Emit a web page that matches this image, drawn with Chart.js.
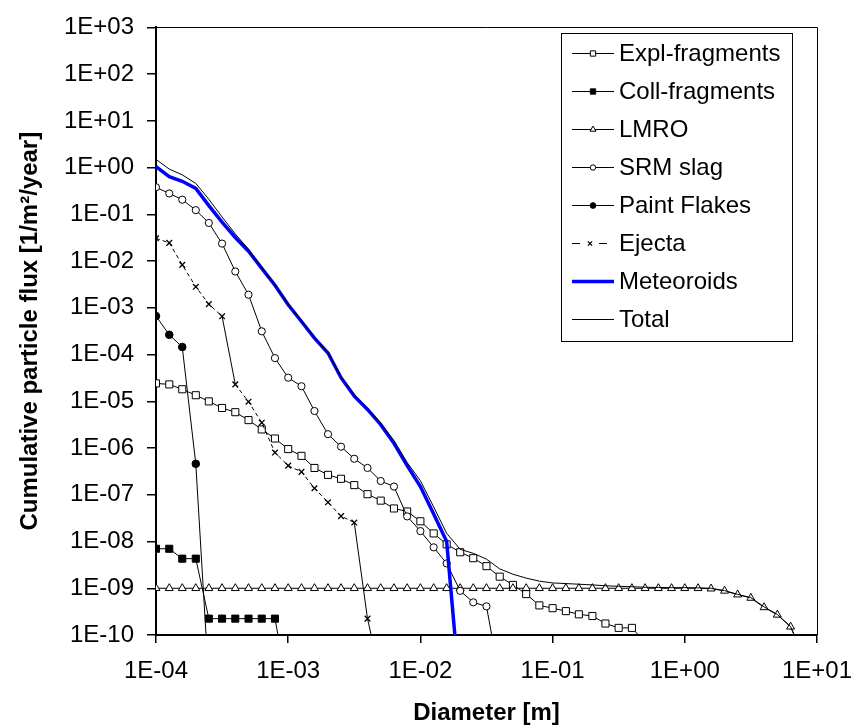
<!DOCTYPE html>
<html><head><meta charset="utf-8">
<script src="https://cdn.jsdelivr.net/npm/chart.js@4.4.0/dist/chart.umd.min.js"></script>
<style>html,body{margin:0;padding:0;background:#fff}#wrap{width:867px;height:728px;position:relative}</style>
</head><body><div id="wrap"><canvas id="c" width="867" height="728"></canvas></div>
<script>
// ---- data ----
const diameters = [1.00e-4,1.26e-4,1.58e-4,2.00e-4,2.51e-4,3.16e-4,3.98e-4,5.01e-4,6.31e-4,7.94e-4,
  1.00e-3,1.26e-3,1.58e-3,2.00e-3,2.51e-3,3.16e-3,3.98e-3,5.01e-3,6.31e-3,7.94e-3,
  1.00e-2,1.26e-2,1.58e-2,2.00e-2,2.51e-2,3.16e-2,3.98e-2,5.01e-2,6.31e-2,7.94e-2,
  1.00e-1,1.26e-1,1.58e-1,2.00e-1,2.51e-1,3.16e-1,3.98e-1,5.01e-1,6.31e-1,7.94e-1,
  1.00,1.26,1.58,2.00,2.51,3.16,3.98,5.01,6.31,7.94,10.0];
const xTicks = [1e-4,1e-3,1e-2,1e-1,1,10];
const xTickLabels = ['1E-04','1E-03','1E-02','1E-01','1E+00','1E+01'];
const yTicks = [1e-10,1e-9,1e-8,1e-7,1e-6,1e-5,1e-4,1e-3,1e-2,1e-1,1,10,100,1000];
const yTickLabels = ['1E-10','1E-09','1E-08','1E-07','1E-06','1E-05','1E-04','1E-03','1E-02','1E-01','1E+00','1E+01','1E+02','1E+03'];
const seriesNames = ['Expl-fragments','Coll-fragments','LMRO','SRM slag','Paint Flakes','Ejecta','Meteoroids','Total'];

const explFragments = [2.42e-5,2.30e-5,1.81e-5,1.35e-5,9.96e-6,7.2e-6,5.85e-6,3.96e-6,2.5e-6,1.60e-6,
  9.5e-7,6.8e-7,3.75e-7,2.67e-7,2.2e-7,1.61e-7,1.03e-7,7.5e-8,5.1e-8,4.4e-8,
  2.71e-8,1.49e-8,8.7e-9,5.9e-9,4.4e-9,2.97e-9,1.77e-9,1.18e-9,7.5e-10,4.3e-10,
  3.75e-10,3.24e-10,2.77e-10,2.55e-10,1.76e-10,1.42e-10,1.42e-10,7e-11];
const collFragments = [7.0e-9,7.0e-9,4.3e-9,4.3e-9,2.24e-10,2.24e-10,2.24e-10,2.24e-10,2.24e-10,2.24e-10,6.6e-12];
const lmro = [1.0e-9,1.0e-9,1.0e-9,1.0e-9,1.0e-9,1.0e-9,1.0e-9,1.0e-9,1.0e-9,1.0e-9,
  1.0e-9,1.0e-9,1.0e-9,1.0e-9,1.0e-9,1.0e-9,1.0e-9,1.0e-9,1.0e-9,1.0e-9,
  1.0e-9,1.0e-9,1.0e-9,1.0e-9,1.0e-9,1.0e-9,1.0e-9,1.0e-9,1.0e-9,1.0e-9,
  1.0e-9,1.0e-9,1.0e-9,1.0e-9,1.0e-9,1.0e-9,1.0e-9,1.0e-9,1.0e-9,1.0e-9,
  1.0e-9,1.0e-9,0.98e-9,8.8e-10,7.3e-10,6.2e-10,3.9e-10,2.7e-10,1.5e-10,3.3e-11];
const srmSlag = [0.38,0.28,0.206,0.123,0.0655,0.0237,6.0e-3,1.91e-3,3.14e-4,8.4e-5,
  3.2e-5,2.1e-5,6.2e-6,1.98e-6,1.07e-6,5.9e-7,3.75e-7,1.97e-7,1.50e-7,3.45e-8,
  1.67e-8,7.5e-9,3.4e-9,8.8e-10,5.0e-10,4.1e-10,1.2e-11];
const paintFlakes = [6.65e-4,2.65e-4,1.45e-4,4.6e-7,1.0e-11];
const ejecta = [0.0308,0.0245,8.3e-3,2.82e-3,1.20e-3,6.6e-4,2.3e-5,9.8e-6,3.48e-6,8.0e-7,
  4.2e-7,3.09e-7,1.38e-7,6.9e-8,3.5e-8,2.55e-8,2.24e-10,1.2e-11];
const meteoroids = [1.05,0.64,0.51,0.36,0.154,0.068,0.032,0.0163,7.0e-3,3.05e-3,
  1.16e-3,5.1e-4,2.24e-4,1.08e-4,3.2e-5,1.29e-5,6.7e-6,3.16e-6,1.26e-6,4.2e-7,
  1.5e-7,3.9e-8,1.0e-8,5e-12];
const total = [1.5,0.93,0.70,0.46,0.21,0.088,0.038,0.018,7.3e-3,3.1e-3,
  1.2e-3,5.3e-4,2.3e-4,1.1e-4,3.3e-5,1.37e-5,7.1e-6,3.4e-6,1.45e-6,4.9e-7,
  2.0e-7,5.5e-8,1.5e-8,6.8e-9,5.6e-9,4.2e-9,2.6e-9,2.0e-9,1.65e-9,1.42e-9,
  1.30e-9,1.26e-9,1.22e-9,1.18e-9,1.13e-9,1.10e-9,1.08e-9,1.05e-9,1.04e-9,1.03e-9,
  1.03e-9,1.02e-9,1.0e-9,8.9e-10,7.4e-10,6.3e-10,4.0e-10,2.75e-10,1.52e-10,3.4e-11];

// ---- build ----
const pts = arr => arr.map((v, i) => ({x: diameters[i], y: v}));
const FONT = '"Liberation Sans", Arial, Helvetica, sans-serif';
Chart.defaults.font.family = FONT;
Chart.defaults.font.size = 24;
Chart.defaults.color = '#000';

const base = {borderColor: '#000', borderWidth: 1, pointBorderColor: '#000', pointBorderWidth: 1, tension: 0, fill: false};
const datasets = [
  {...base, label: seriesNames[0], data: pts(explFragments), pointStyle: 'rect', pointRadius: 5, pointBackgroundColor: '#fff', order: 7},
  {...base, label: seriesNames[1], data: pts(collFragments), pointStyle: 'rect', pointRadius: 5, pointBackgroundColor: '#000', order: 6},
  {...base, label: seriesNames[2], data: pts(lmro), pointStyle: 'triangle', pointRadius: 4.6, pointBackgroundColor: '#fff', order: 5},
  {...base, label: seriesNames[3], data: pts(srmSlag), pointStyle: 'circle', pointRadius: 3.6, pointBackgroundColor: '#fff', order: 4},
  {...base, label: seriesNames[4], data: pts(paintFlakes), pointStyle: 'circle', pointRadius: 3.8, pointBackgroundColor: '#000', order: 3},
  {...base, label: seriesNames[5], data: pts(ejecta), pointStyle: 'crossRot', pointRadius: 4, pointBackgroundColor: '#000', pointBorderWidth: 1.3, order: 2,
    segment: {borderDash: c => (Math.hypot(c.p1.x - c.p0.x, c.p1.y - c.p0.y) > 50 ? [] : [4, 3])}},
  {...base, label: seriesNames[6], data: pts(meteoroids), borderColor: '#0000ff', borderWidth: 3.5, pointRadius: 0, order: 1},
  {...base, label: seriesNames[7], data: pts(total), borderColor: '#000', borderWidth: 1, pointRadius: 0, order: 0}
];

const framePlugin = {
  id: 'frameAndLegend',
  afterDraw(chart) {
    const ctx = chart.ctx, a = chart.chartArea;
    ctx.save();
    ctx.strokeStyle = '#000';
    ctx.lineWidth = 1;
    ctx.beginPath();
    ctx.moveTo(a.left, Math.round(a.top) + 0.5);
    ctx.lineTo(Math.round(a.right) + 0.5, Math.round(a.top) + 0.5);
    ctx.lineTo(Math.round(a.right) + 0.5, a.bottom);
    ctx.stroke();
    // legend box
    const lx = 561, ly = 33, lw = 231, lh = 308, row = 38, y0 = 53.5;
    ctx.fillStyle = '#fff';
    ctx.fillRect(lx, ly, lw, lh);
    ctx.strokeRect(lx + 0.5, ly + 0.5, lw, lh);
    ctx.font = '24px ' + FONT;
    ctx.textBaseline = 'middle';
    ctx.textAlign = 'left';
    chart.data.datasets.forEach((ds, i) => {
      const y = y0 + i * row;
      let mx = 593;
      ctx.strokeStyle = ds.borderColor;
      ctx.lineWidth = ds.borderWidth;
      if (ds.segment) {
        mx = 590;
        ctx.beginPath(); ctx.moveTo(572, y); ctx.lineTo(580, y); ctx.moveTo(599, y); ctx.lineTo(607, y); ctx.stroke();
      } else {
        ctx.beginPath(); ctx.moveTo(572, y); ctx.lineTo(614, y); ctx.stroke();
      }
      if (ds.pointRadius > 0) {
        ctx.fillStyle = ds.pointBackgroundColor;
        ctx.strokeStyle = ds.pointBorderColor;
        ctx.lineWidth = ds.pointBorderWidth;
        Chart.helpers.drawPoint(ctx, {pointStyle: ds.pointStyle, rotation: 0, radius: ds.pointRadius * 0.75, borderWidth: ds.pointBorderWidth}, mx, y);
      }
      ctx.fillStyle = '#000';
      ctx.fillText(ds.label, 619, y + 1);
    });
    ctx.restore();
  }
};

new Chart(document.getElementById('c'), {
  type: 'line',
  data: {datasets},
  plugins: [framePlugin],
  options: {
    responsive: false, animation: false, devicePixelRatio: 1,
    layout: {padding: {top: 17, right: 50, bottom: 0, left: 0}},
    plugins: {legend: {display: false}, tooltip: {enabled: false}},
    scales: {
      x: {
        type: 'logarithmic', min: 1e-4, max: 10,
        afterBuildTicks: s => { s.ticks = xTicks.map(v => ({value: v})); },
        afterFit: s => { s.height = 93; },
        ticks: {autoSkip: false, maxRotation: 0, padding: 14, color: '#000', font: {size: 24},
          callback: (v, i) => xTickLabels[i]},
        grid: {drawOnChartArea: false, drawTicks: true, tickLength: 8, color: '#000', lineWidth: 1.5},
        border: {display: true, color: '#000', width: 2},
        title: {display: true, text: 'Diameter [m]', color: '#000', font: {size: 24, weight: 'bold'}, padding: {top: 0, bottom: 0}}
      },
      y: {
        type: 'logarithmic', min: 1e-10, max: 1000,
        afterBuildTicks: s => { s.ticks = yTicks.map(v => ({value: v})); },
        afterFit: s => { s.width = 156; },
        ticks: {autoSkip: false, padding: 13, color: '#000', font: {size: 24},
          callback: (v, i) => yTickLabels[i]},
        grid: {drawOnChartArea: false, drawTicks: true, tickLength: 9, color: '#000', lineWidth: 1.5},
        border: {display: true, color: '#000', width: 2},
        title: {display: true, text: 'Cumulative particle flux [1/m²/year]', color: '#000', font: {size: 24, weight: 'bold'}, padding: {top: 16, bottom: 0}}
      }
    }
  }
});
</script></body></html>
